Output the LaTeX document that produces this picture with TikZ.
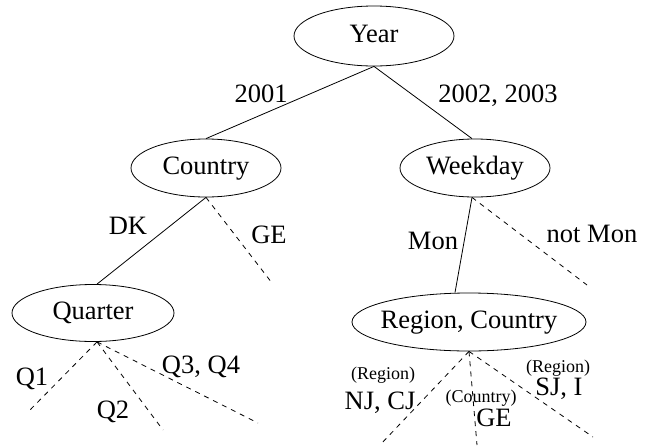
\documentclass[tikz,border=0pt]{standalone}
\usepackage{fontspec}
\setmainfont{Liberation Serif}
\usetikzlibrary{shapes.geometric}
\begin{document}
\begin{tikzpicture}[x=1pt,y=-1pt,
  line width=0.8pt,
  dim/.style={draw, ellipse, inner sep=0pt, font=\fontsize{26.5}{30}\selectfont,
              text height=18pt, text depth=6pt},
  lbl/.style={inner sep=0pt, anchor=base, font=\fontsize{26.5}{30}\selectfont},
  sub/.style={inner sep=0pt, anchor=base, font=\fontsize{18}{20}\selectfont},
  cut/.style={dash pattern=on 5pt off 5pt}]
\useasboundingbox (0,0) rectangle (654,445);

% dimension nodes
\node[dim, minimum width=160pt, minimum height=60pt] (year) at (374,36) {\makebox[0pt]{Year}};
\node[dim, minimum width=150pt, minimum height=58pt] (country) at (206,168) {\makebox[0pt]{Country}};
\node[dim, minimum width=150pt, minimum height=58pt] (weekday) at (475,168) {\makebox[0pt]{Weekday}};
\node[dim, minimum width=162pt, minimum height=57pt] (quarter) at (93,313) {\makebox[0pt]{Quarter}};
\node[dim, minimum width=234pt, minimum height=58pt] (region) at (469,322) {\makebox[0pt]{Region, Country}};

% open ends of the pruned branches
\coordinate (geend) at (272,283);
\coordinate (notmonend) at (587,285);
\coordinate (q1end) at (27,413);
\coordinate (q2end) at (163,430);
\coordinate (q34end) at (258,423);
\coordinate (njend) at (380,445);
\coordinate (gend) at (477,445);
\coordinate (sjend) at (593,437);

% kept branches
\draw (year.south) -- (country.north);
\draw (year.south) -- ([xshift=-3pt]weekday.north);
\draw (country.south) -- ([xshift=4pt]quarter.north);
\draw ([xshift=-3pt]weekday.south) -- ([xshift=-14pt]region.north);

% pruned branches
\draw[cut] (country.south) -- (geend);
\draw[cut] ([xshift=-3pt]weekday.south) -- (notmonend);
\draw[cut] ([xshift=4pt]quarter.south) -- (q1end);
\draw[cut] ([xshift=4pt]quarter.south) -- (q2end);
\draw[cut] ([xshift=4pt]quarter.south) -- (q34end);
\draw[cut] (region.south) -- (njend);
\draw[cut] (region.south) -- (gend);
\draw[cut] (region.south) -- (sjend);

% branch labels
\node[lbl] (l2001) at (261,102) {2001};
\node[lbl] (l2002) at (498,102) {2002, 2003};
\node[lbl] (ldk) at (128,234) {DK};
\node[lbl] (lge) at (269,243) {GE};
\node[lbl] (lmon) at (433,249) {Mon};
\node[lbl] (lnotmon) at (592,242) {not Mon};
\node[lbl] (lq1) at (32,385) {Q1};
\node[lbl] (lq2) at (113,418) {Q2};
\node[lbl] (lq34) at (201,373) {Q3, Q4};
\node[sub] (lreg1) at (383,379) {(Region)};
\node[lbl] (lnj) at (380,409) {NJ, CJ};
\node[sub] (lcty) at (481,402) {(Country)};
\node[lbl] (lge2) at (494,426) {GE};
\node[sub] (lreg2) at (558,372) {(Region)};
\node[lbl] (lsj) at (559,395) {SJ, I};
\end{tikzpicture}
\end{document}
